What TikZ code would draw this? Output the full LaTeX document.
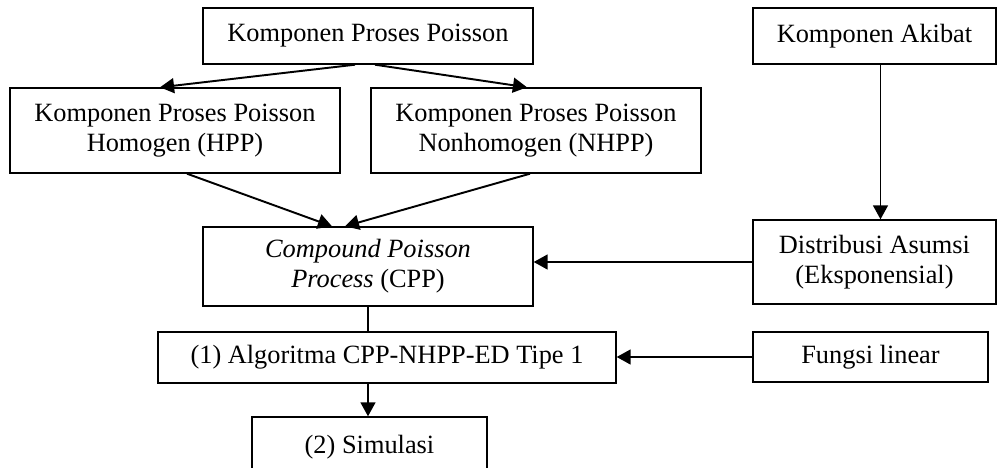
\documentclass[tikz,border=0pt]{standalone}
\usepackage{fontspec}
\setmainfont{Liberation Serif}
\usepackage{tikz}
\usetikzlibrary{arrows.meta, positioning, calc}
\tikzstyle{kotak} = [rectangle, draw=black, line width=0.8pt, align=center, inner sep=0pt, font=\fontsize{15}{17}\selectfont]
\tikzstyle{panah} = [line width=1.1pt, -{Triangle[length=8pt, width=8.5pt]}]
\tikzstyle{garis} = [line width=1.1pt]

\begin{document}
\begin{tikzpicture}[x=0.02cm, y=-0.02cm]
            \useasboundingbox (0,0) rectangle (998,467);
            \node[kotak, minimum width=6.6cm, minimum height=1.12cm] (pp) at (368,36) {Komponen Proses Poisson};
            \node[kotak, minimum width=6.6cm, minimum height=1.7cm] (hpp) at (175,130.5) {Komponen Proses Poisson\\Homogen (HPP)};
            \node[kotak, minimum width=6.6cm, minimum height=1.7cm] (nhpp) at (536,130.5) {Komponen Proses Poisson\\Nonhomogen (NHPP)};
            \node[kotak, minimum width=6.6cm, minimum height=1.58cm] (cpp) at (368,266.5) {\textit{Compound Poisson}\\\textit{Process} (CPP)};
            \node[kotak, minimum width=9.16cm, minimum height=1.02cm] (alg) at (387,357.5) {(1) Algoritma CPP-NHPP-ED Tipe 1};
            \node[kotak, minimum width=4.7cm, minimum height=1.2cm] (sim) at (369.5,447) {(2) Simulasi};

            \node[kotak, minimum width=4.86cm, minimum height=1.12cm] (akibat) at (874.5,36) {Komponen Akibat};
            \node[kotak, minimum width=4.86cm, minimum height=1.68cm] (dist) at (874.5,262) {Distribusi Asumsi\\(Eksponensial)};
            \node[kotak, minimum width=4.7cm, minimum height=1.0cm] (fungsi) at (870.5,357) {Fungsi linear};

            \draw[panah] ($(pp.south)+(-13,0)$) -- ($(hpp.north)+(-15,0)$);
            \draw[panah] ($(pp.south)+(7,0)$) -- ($(nhpp.north)+(-9,0)$);
            \draw[panah] ($(hpp.south)+(12,0)$) -- ($(cpp.north)+(-36,0)$);
            \draw[panah] ($(nhpp.south)+(-6,0)$) -- ($(cpp.north)+(-23,0)$);
            \draw[garis] (cpp.south) -- (cpp.south |- alg.north);
            \draw[panah] (alg.south -| cpp.south) -- (sim.north -| cpp.south);
            \draw[panah] ($(akibat.south)+(6,0)$) -- ($(dist.north)+(6,0)$);
            \draw[panah] (dist.west) -- (dist.west -| cpp.east);
            \draw[panah] (fungsi.west) -- (fungsi.west -| alg.east);

        \end{tikzpicture}
\end{document}
